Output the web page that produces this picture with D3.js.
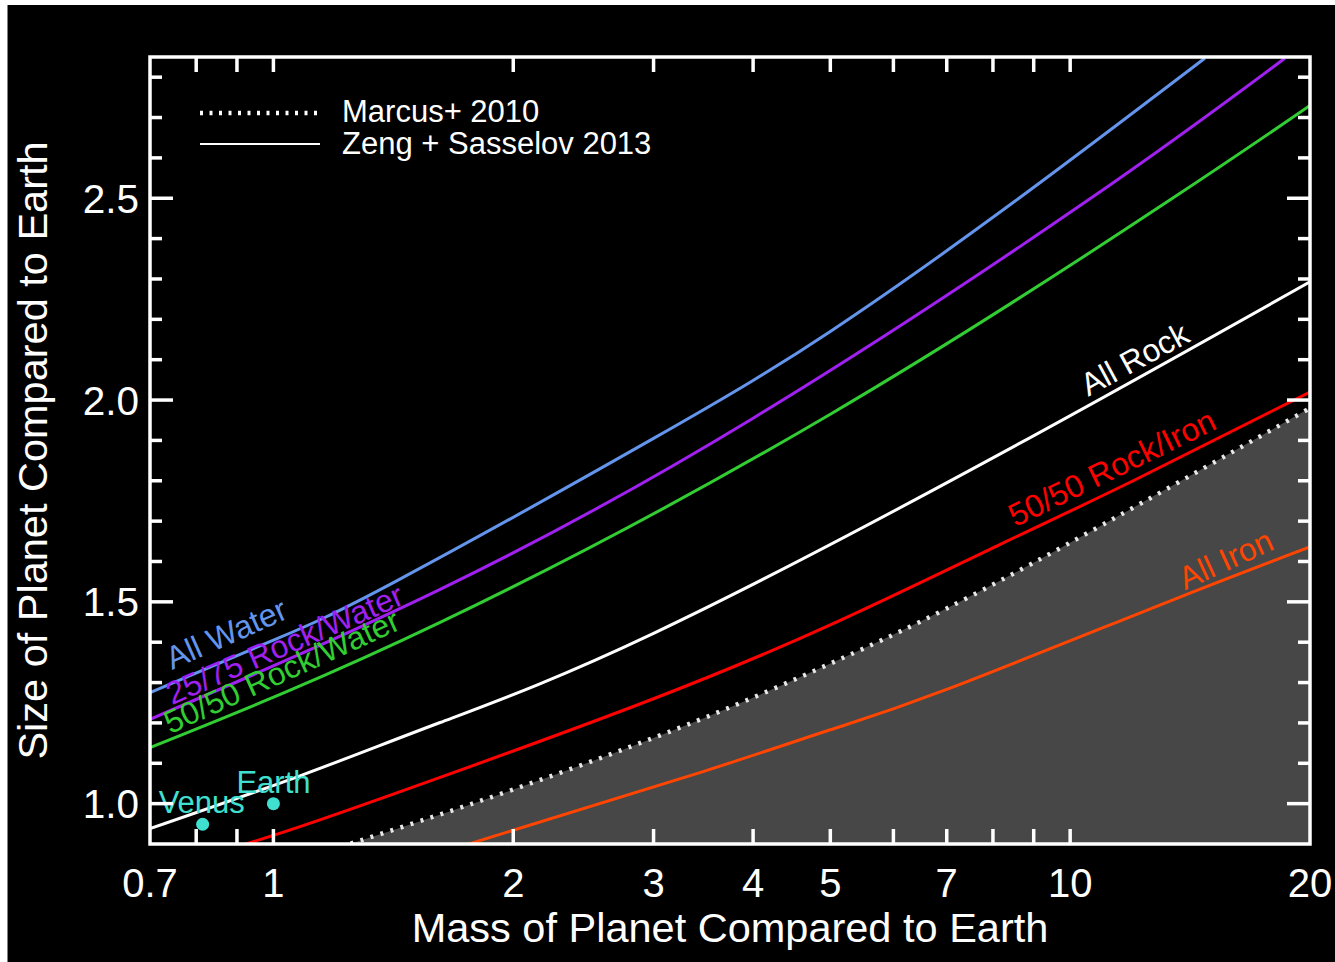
<!DOCTYPE html>
<html><head><meta charset="utf-8">
<script src="https://cdn.jsdelivr.net/npm/d3@7"></script>
<style>html,body{margin:0;padding:0;background:#fff;} svg{display:block;}</style>
</head><body>
<svg id="c" width="1335" height="962"></svg>
<script>
// ---------- data ----------
const massTickLabels = [0.7, 1, 2, 3, 4, 5, 7, 10, 20];
const massTicks = [0.8, 0.9, 1, 2, 3, 4, 5, 6, 7, 8, 9, 10];
const radiusMajor = [1.0, 1.5, 2.0, 2.5];
const radiusMinor = [1.1, 1.2, 1.3, 1.4, 1.6, 1.7, 1.8, 1.9, 2.1, 2.2, 2.3, 2.4, 2.6, 2.7, 2.8];

// [mass (Earth masses), radius (Earth radii)]
const allWater   = [[0.7,1.275],[1.0,1.405],[1.428,1.552],[3,1.905],[5,2.17],[8.53,2.493],[14.76,2.847]];
const rock25Water= [[0.7,1.209],[1.619,1.531],[4,1.955],[10.49,2.493],[18.6,2.847]];
const rock50Water= [[0.7,1.139],[1.619,1.449],[5,1.965],[13.28,2.493],[20,2.73]];
const allRock    = [[0.7,0.938],[1.08,1.069],[1.619,1.201],[3,1.422],[8.16,1.866],[20,2.293]];
const rockIron   = [[0.85,0.878],[1.08,0.943],[1.619,1.065],[2.955,1.255],[5,1.443],[8.16,1.642],[12,1.80],[20,2.02]];
const marcus     = [[1.18,0.885],[2,1.035],[3.399,1.205],[5,1.347],[8.16,1.552],[20,1.98]];
const allIron    = [[1.65,0.883],[3.43,1.077],[5,1.183],[7,1.283],[13.34,1.502],[20,1.636]];
const planets    = [{name:"Venus", mass:0.815, radius:0.949},{name:"Earth", mass:1.0, radius:1.0}];

const legendItems = ["Marcus+ 2010", "Zeng + Sasselov 2013"];

// ---------- setup ----------
const W = 1335, H = 962;
const L = 150, R = 1310, T = 57, B = 844;
const FONT = "'Liberation Sans', Arial, Helvetica, sans-serif";

const svg = d3.select("#c");
svg.append("rect").attr("x", 7.5).attr("y", 5).attr("width", W - 7.5).attr("height", H - 5).attr("fill", "#000");

const x = d3.scaleLog().domain([0.7, 20]).range([L, R]);
const y = d3.scaleLinear().domain([0.9, 2.85]).range([B, T]);

svg.append("clipPath").attr("id", "plotclip")
  .append("rect").attr("x", L).attr("y", T).attr("width", R - L).attr("height", B - T);

const g = svg.append("g").attr("clip-path", "url(#plotclip)");

const line = d3.line().x(d => x(d[0])).y(d => y(d[1])).curve(d3.curveNatural);
const area = d3.area().x(d => x(d[0])).y0(B + 5).y1(d => y(d[1])).curve(d3.curveNatural);

// shaded region below Marcus line
g.append("path").datum(marcus).attr("d", area).attr("fill", "#474747");

const curves = [
  {data: allWater,    color: "#6495ed", label: "All Water",        at: [0.746, 1.331], angle: 24},
  {data: rock25Water, color: "#a020f0", label: "25/75 Rock/Water", at: [0.746, 1.244], angle: 23.5},
  {data: rock50Water, color: "#32cd32", label: "50/50 Rock/Water", at: [0.742, 1.172], angle: 24.5},
  {data: allRock,     color: "#ffffff", label: "All Rock",         at: [10.54, 2.008], angle: 28.5},
  {data: rockIron,    color: "#ff0000", label: "50/50 Rock/Iron",  at: [8.53, 1.685],  angle: 26},
  {data: allIron,     color: "#ff4500", label: "All Iron",         at: [13.94, 1.529], angle: 24.6}
];

curves.forEach(c => {
  g.append("path").datum(c.data).attr("d", line)
    .attr("fill", "none").attr("stroke", c.color).attr("stroke-width", 3);
});

// Marcus dotted line
g.append("path").datum(marcus).attr("d", line)
  .attr("fill", "none").attr("stroke", "#e8e8e8").attr("stroke-width", 4.5)
  .attr("stroke-dasharray", "3,7.5");

// curve labels
curves.forEach(c => {
  svg.append("text")
    .attr("transform", `translate(${x(c.at[0])},${y(c.at[1])}) rotate(${-c.angle})`)
    .attr("fill", c.color).attr("font-family", FONT).attr("font-size", 32)
    .text(c.label);
});

// planets
planets.forEach(p => {
  svg.append("circle").attr("cx", x(p.mass)).attr("cy", y(p.radius)).attr("r", 6.5).attr("fill", "#40e0d0");
});
svg.append("text").attr("x", x(planets[1].mass) - 37).attr("y", y(planets[1].radius) - 11)
  .attr("fill", "#40e0d0").attr("font-family", FONT).attr("font-size", 31).text(planets[1].name);
svg.append("text").attr("x", x(planets[0].mass) - 44).attr("y", y(planets[0].radius) - 11)
  .attr("fill", "#40e0d0").attr("font-family", FONT).attr("font-size", 31).text(planets[0].name);

// ---------- frame & ticks ----------
const axisCol = "#ffffff";
const fw = 3.5;
const ax = svg.append("g").attr("stroke", axisCol).attr("stroke-width", fw).attr("fill", "none");
ax.append("rect").attr("x", L).attr("y", T).attr("width", R - L).attr("height", B - T);

massTicks.forEach(m => {
  ax.append("line").attr("x1", x(m)).attr("x2", x(m)).attr("y1", B).attr("y2", B - 15);
  ax.append("line").attr("x1", x(m)).attr("x2", x(m)).attr("y1", T).attr("y2", T + 15);
});
radiusMinor.forEach(r => {
  ax.append("line").attr("x1", L).attr("x2", L + 12).attr("y1", y(r)).attr("y2", y(r));
  ax.append("line").attr("x1", R).attr("x2", R - 12).attr("y1", y(r)).attr("y2", y(r));
});
radiusMajor.forEach(r => {
  ax.append("line").attr("x1", L).attr("x2", L + 23).attr("y1", y(r)).attr("y2", y(r));
  ax.append("line").attr("x1", R).attr("x2", R - 23).attr("y1", y(r)).attr("y2", y(r));
});

// tick labels
svg.append("g").selectAll("text").data(massTickLabels).join("text")
  .attr("x", d => x(d)).attr("y", 897).attr("text-anchor", "middle")
  .attr("fill", "#fff").attr("font-family", FONT).attr("font-size", 40)
  .text(d => String(d));
svg.append("g").selectAll("text").data(radiusMajor).join("text")
  .attr("x", 139).attr("y", d => y(d)).attr("dy", "0.36em").attr("text-anchor", "end")
  .attr("fill", "#fff").attr("font-family", FONT).attr("font-size", 40.5)
  .text(d => d.toFixed(1));

// axis titles
svg.append("text").attr("x", (L + R) / 2).attr("y", 942).attr("text-anchor", "middle")
  .attr("fill", "#fff").attr("font-family", FONT).attr("font-size", 41.5)
  .text("Mass of Planet Compared to Earth");
svg.append("text").attr("transform", `translate(47,${(T + B) / 2}) rotate(-90)`).attr("text-anchor", "middle")
  .attr("fill", "#fff").attr("font-family", FONT).attr("font-size", 41.5)
  .text("Size of Planet Compared to Earth");

// legend
svg.append("line").attr("x1", 200).attr("x2", 320).attr("y1", 113).attr("y2", 113)
  .attr("stroke", "#fff").attr("stroke-width", 4.5).attr("stroke-dasharray", "3,6.5");
svg.append("line").attr("x1", 200).attr("x2", 320).attr("y1", 144).attr("y2", 144)
  .attr("stroke", "#fff").attr("stroke-width", 2);
svg.append("g").selectAll("text").data(legendItems).join("text")
  .attr("x", 342).attr("y", (d, i) => 122 + i * 32)
  .attr("fill", "#fff").attr("font-family", FONT).attr("font-size", 31)
  .text(d => d);
</script>
</body></html>
